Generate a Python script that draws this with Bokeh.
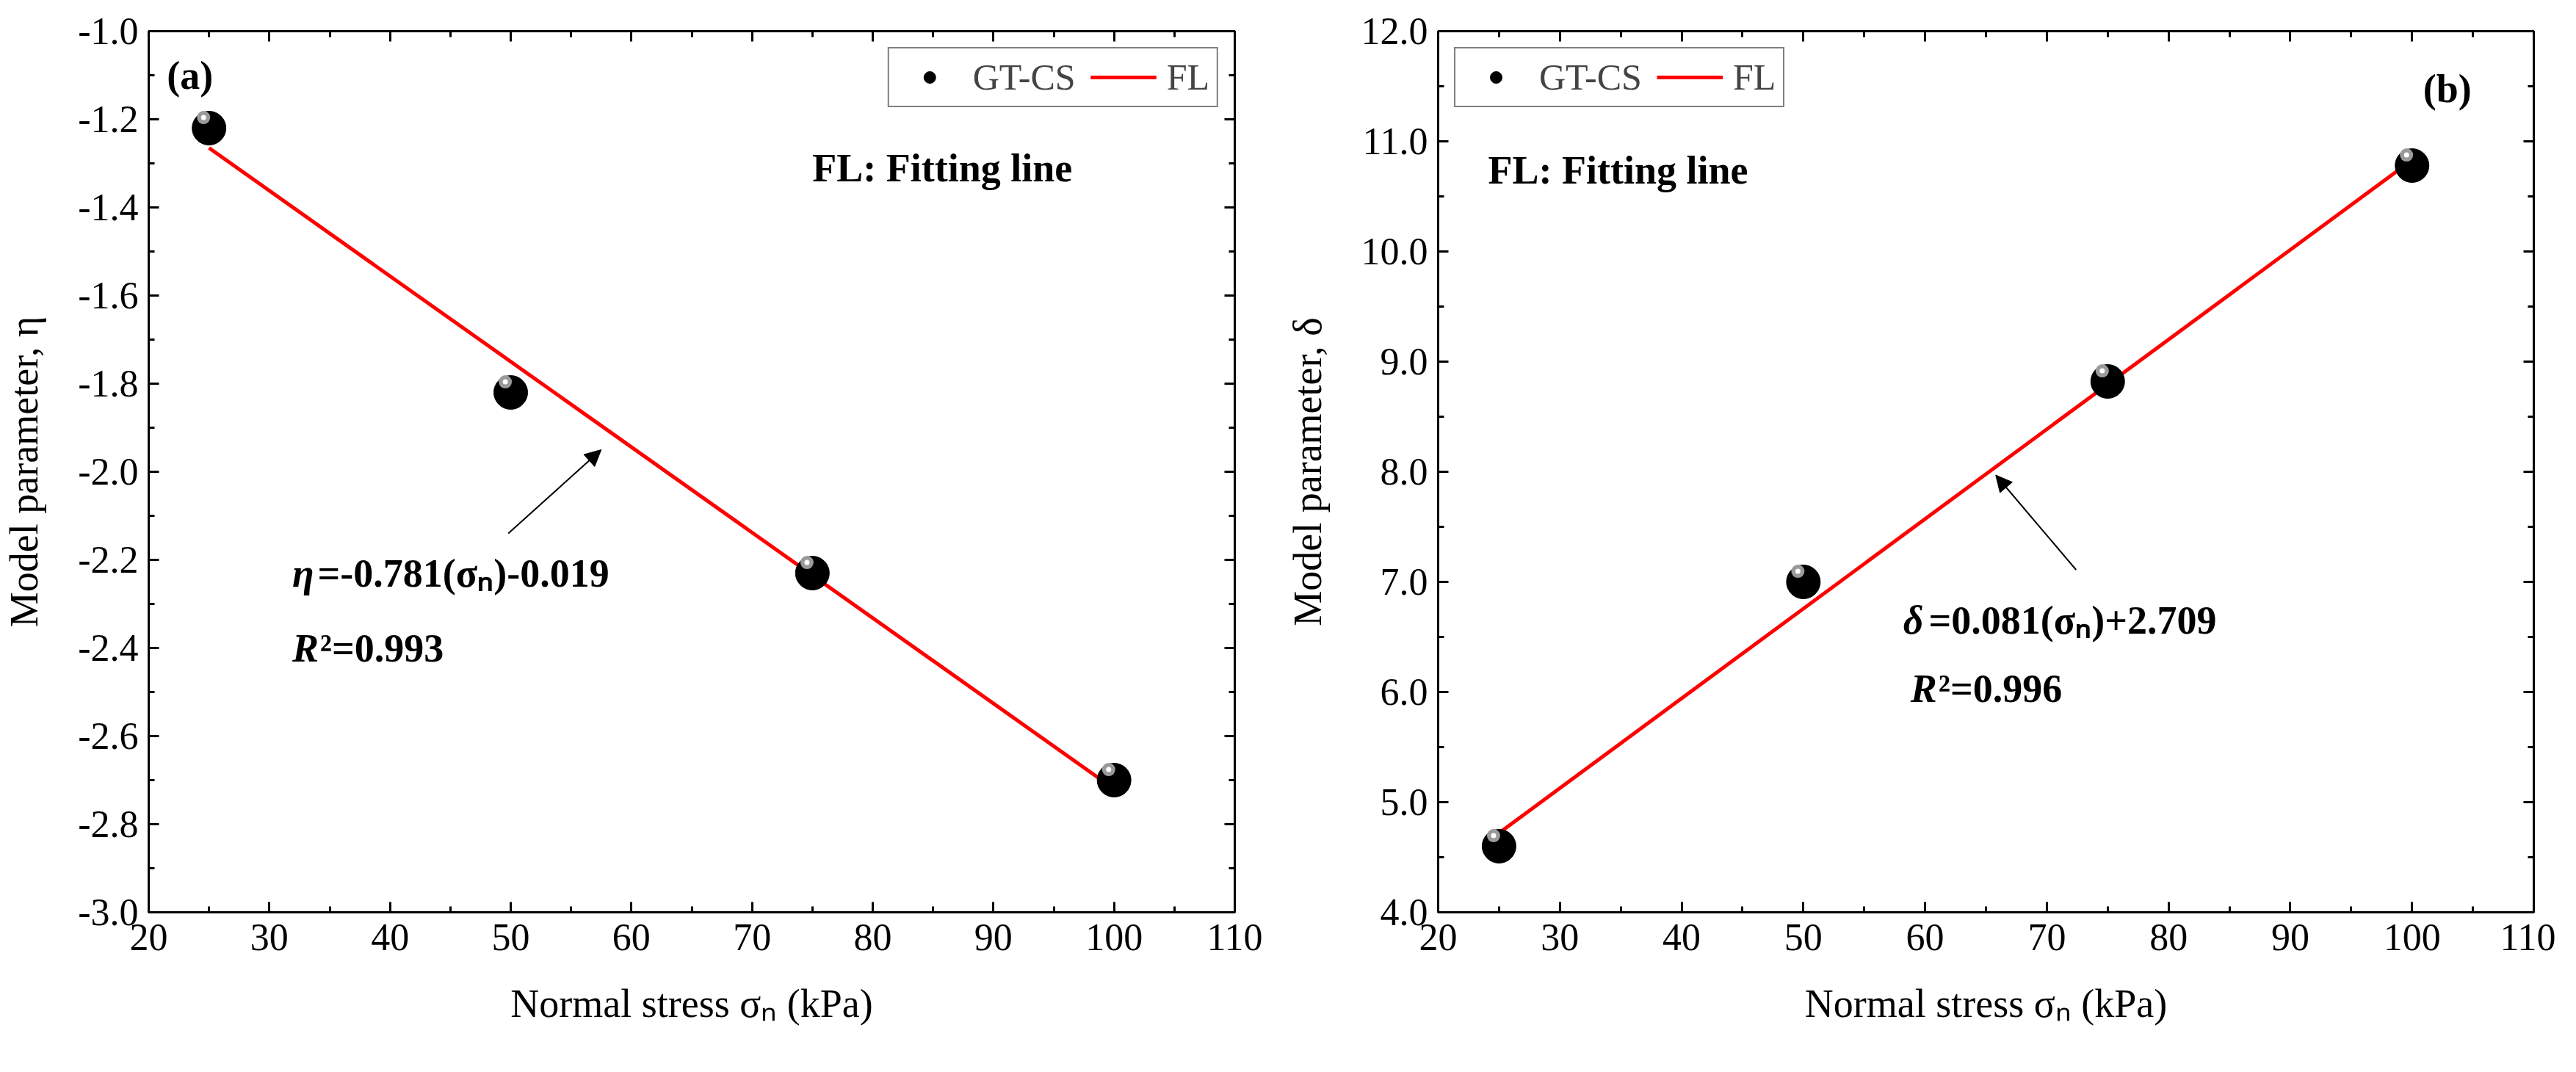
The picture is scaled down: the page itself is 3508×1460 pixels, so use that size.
from bokeh.plotting import figure
from bokeh.layouts import row
from bokeh.models import LinearAxis, Legend, LegendItem, Arrow, NormalHead, FixedTicker, Range1d, CustomJSTickFormatter
from bokeh.core.properties import value
from bokeh.embed import file_html
from bokeh.resources import INLINE

stress = [25, 50, 75, 100]
eta = [-1.22, -1.82, -2.23, -2.70]
eta_fit_x = [25, 100]
eta_fit_y = [-1.265, -2.72]
delta = [4.60, 7.00, 8.82, 10.78]
delta_fit_x = [25, 100]
delta_fit_y = [4.72, 10.83]

FONT = "Liberation Serif"


def make(ys, fx, fy, yr, yticks, ylabel, left, right):
    p = figure(width=1740, height=1440, x_range=Range1d(20, 110), y_range=Range1d(*yr),
               output_backend="svg", toolbar_location=None,
               min_border_left=left, min_border_right=right, min_border_top=42, min_border_bottom=198)
    p.xaxis.visible = False
    p.yaxis.visible = False
    p.grid.visible = False
    p.outline_line_color = "black"
    p.outline_line_width = 3
    p.background_fill_color = "white"
    xt = FixedTicker(ticks=list(range(20, 111, 10)), minor_ticks=list(range(20, 111, 5)))
    yt = FixedTicker(ticks=yticks[0], minor_ticks=yticks[1])
    for loc in ["below", "left", "above", "right"]:
        ax = LinearAxis(ticker=xt if loc in ("below", "above") else yt)
        ax.axis_line_width = 3
        ax.major_tick_line_width = 3
        ax.minor_tick_line_width = 3
        ax.major_tick_in = 14
        ax.major_tick_out = 0
        ax.minor_tick_in = 8
        ax.minor_tick_out = 0
        if loc in ("below", "left"):
            ax.major_label_text_font = FONT
            ax.major_label_text_font_size = "52px"
            ax.major_label_text_color = "black"
            ax.axis_label_text_font = FONT
            ax.axis_label_text_font_size = "54px"
            ax.axis_label_text_font_style = "normal"
            ax.axis_label_text_color = "black"
            ax.axis_label_standoff = 40
            if loc == "below":
                ax.axis_label = "Normal stress σₙ (kPa)"
                ax.major_label_standoff = 16
                ax.formatter = CustomJSTickFormatter(code="return tick.toFixed(0)")
            else:
                ax.axis_label = ylabel
                ax.major_label_standoff = 14
                ax.formatter = CustomJSTickFormatter(code="return tick.toFixed(1)")
        else:
            ax.formatter = CustomJSTickFormatter(code="return ''")
            ax.major_label_standoff = 0
        p.add_layout(ax, loc)
    line = p.line(fx, fy, line_color="red", line_width=5)
    dy = 0.012 * (yr[1] - yr[0])
    b1 = p.scatter(stress, ys, size=46, fill_color="black", line_color="black")
    b2 = p.scatter([s - 0.45 for s in stress], [v + dy for v in ys], size=18, fill_color="#9a9a9a", line_color=None)
    b3 = p.scatter([s - 0.45 for s in stress], [v + dy for v in ys], size=7, fill_color="white", line_color=None)
    leg = Legend(items=[LegendItem(label="GT-CS", renderers=[b1]), LegendItem(label="FL", renderers=[line])],
                 orientation="horizontal", border_line_color="black", border_line_width=2,
                 label_text_font=FONT, label_text_font_size="50px", glyph_width=90, glyph_height=40,
                 spacing=20, padding=10, margin=22, label_standoff=14)
    p.add_layout(leg)
    return p, leg


def T(p, x, y, s, size="54px", style="bold", align="left"):
    p.text([x], [y], text=[s], text_font=value(FONT), text_font_size=size, text_font_style=style,
           text_align=align, text_baseline="middle", text_color="black")


pa, la = make(eta, eta_fit_x, eta_fit_y, (-3.0, -1.0),
              ([-3 + 0.2 * i for i in range(11)], [-3 + 0.1 * i for i in range(21)]),
              "Model parameter, η", 189, 59)
la.location = "top_right"
T(pa, 21.5, -1.10, "(a)")
T(pa, 75.0, -1.31, "FL: Fitting line")
T(pa, 31.9, -2.23, "η", style="bold italic")
T(pa, 34.0, -2.23, " =-0.781(σₙ)-0.019")
T(pa, 31.9, -2.40, "R", style="bold italic")
T(pa, 34.2, -2.40, "²=0.993")
pa.add_layout(Arrow(end=NormalHead(size=22, fill_color="black", line_color="black"),
                    x_start=49.8, y_start=-2.14, x_end=57.5, y_end=-1.95, line_width=2))

pb, lb = make(delta, delta_fit_x, delta_fit_y, (4.0, 12.0),
              ([4 + i for i in range(9)], [4 + 0.5 * i for i in range(17)]),
              "Model parameter, δ", 218, 30)
lb.location = "top_left"
T(pb, 102.9, 11.48, "(b)", align="center")
T(pb, 24.1, 10.74, "FL: Fitting line")
T(pb, 58.2, 6.65, "δ", style="bold italic")
T(pb, 60.3, 6.65, " =0.081(σₙ)+2.709")
T(pb, 58.8, 6.03, "R", style="bold italic")
T(pb, 61.1, 6.03, "²=0.996")
pb.add_layout(Arrow(end=NormalHead(size=22, fill_color="black", line_color="black"),
                    x_start=72.4, y_start=7.11, x_end=65.8, y_end=7.97, line_width=2))

layout = row(pa, pb)
open("out.html", "w").write(file_html(layout, INLINE))
